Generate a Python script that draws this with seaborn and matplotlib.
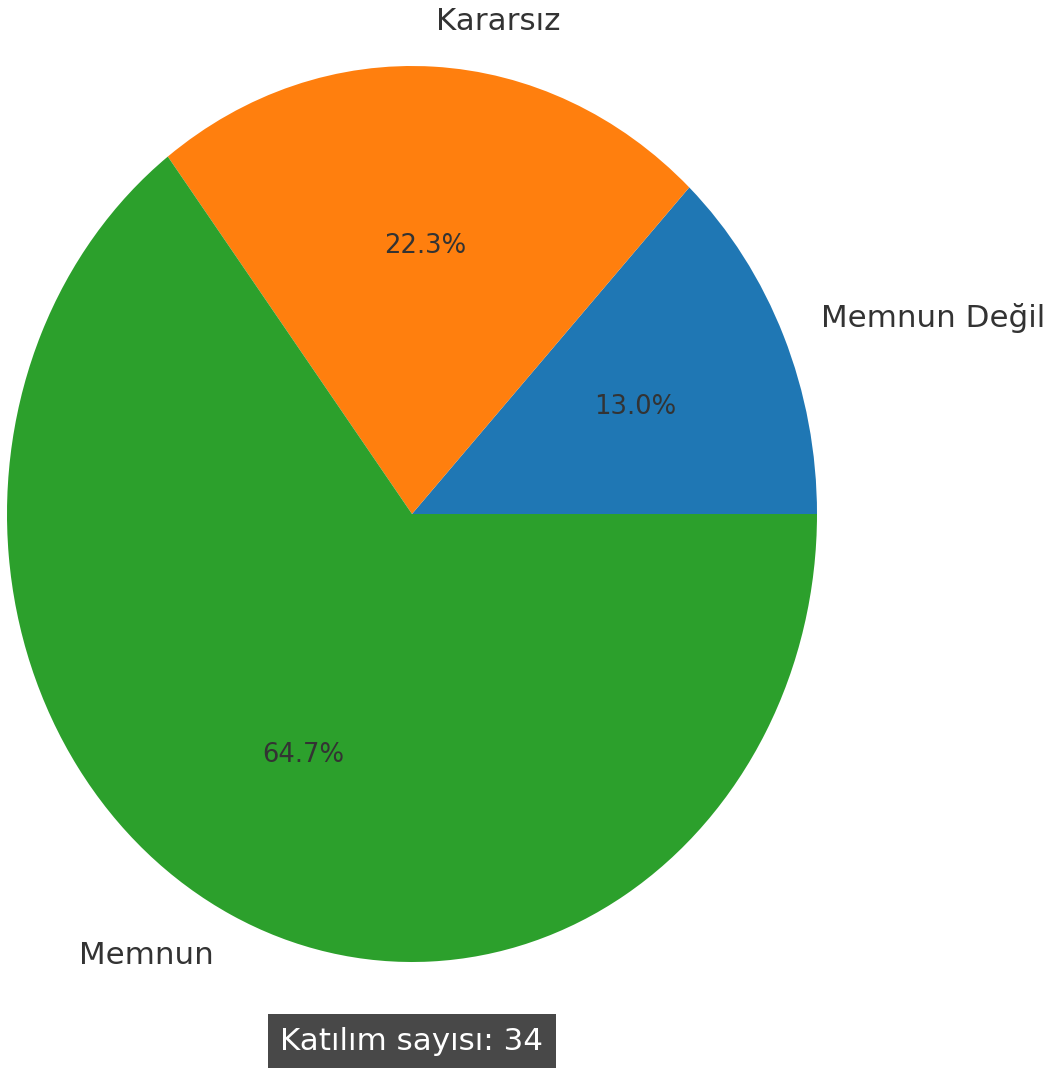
import matplotlib
matplotlib.use("Agg")
import matplotlib.pyplot as plt
import seaborn as sns

# Memnuniyet anketi sonuçları
labels = ["Memnun Değil", "Kararsız", "Memnun"]
shares = [13.0, 22.3, 64.7]
participants = 34

sns.set_theme(style="white")
plt.rcParams['font.family'] = ['DejaVu Sans']

colors = sns.color_palette("tab10", 3)

fig = plt.figure(figsize=(10.53, 10.74), dpi=100)
ax = fig.add_axes([(412 - 506.25) / 1053, 0.0, 1012.5 / 1053, 1120 / 1074])

wedges, texts, autotexts = ax.pie(shares, labels=labels, colors=colors,
                                  autopct='%1.1f%%', startangle=0,
                                  wedgeprops={'linewidth': 0},
                                  textprops={'color': '.2'})
ax.set_aspect('auto')
ax.set_xlim(-1.25, 1.25)
ax.set_ylim(-1.25, 1.25)

for t in texts:
    t.set_fontsize(22.3)
for t in autotexts:
    t.set_fontsize(18.6)

fig.text(412 / 1053, 1 - 1041 / 1074, f"Katılım sayısı: {participants}",
         ha='center', va='center', fontsize=22.3, color='white',
         bbox=dict(boxstyle='square,pad=0.4', facecolor='#484848', edgecolor='none'))

fig.savefig("out.png", dpi=100)
